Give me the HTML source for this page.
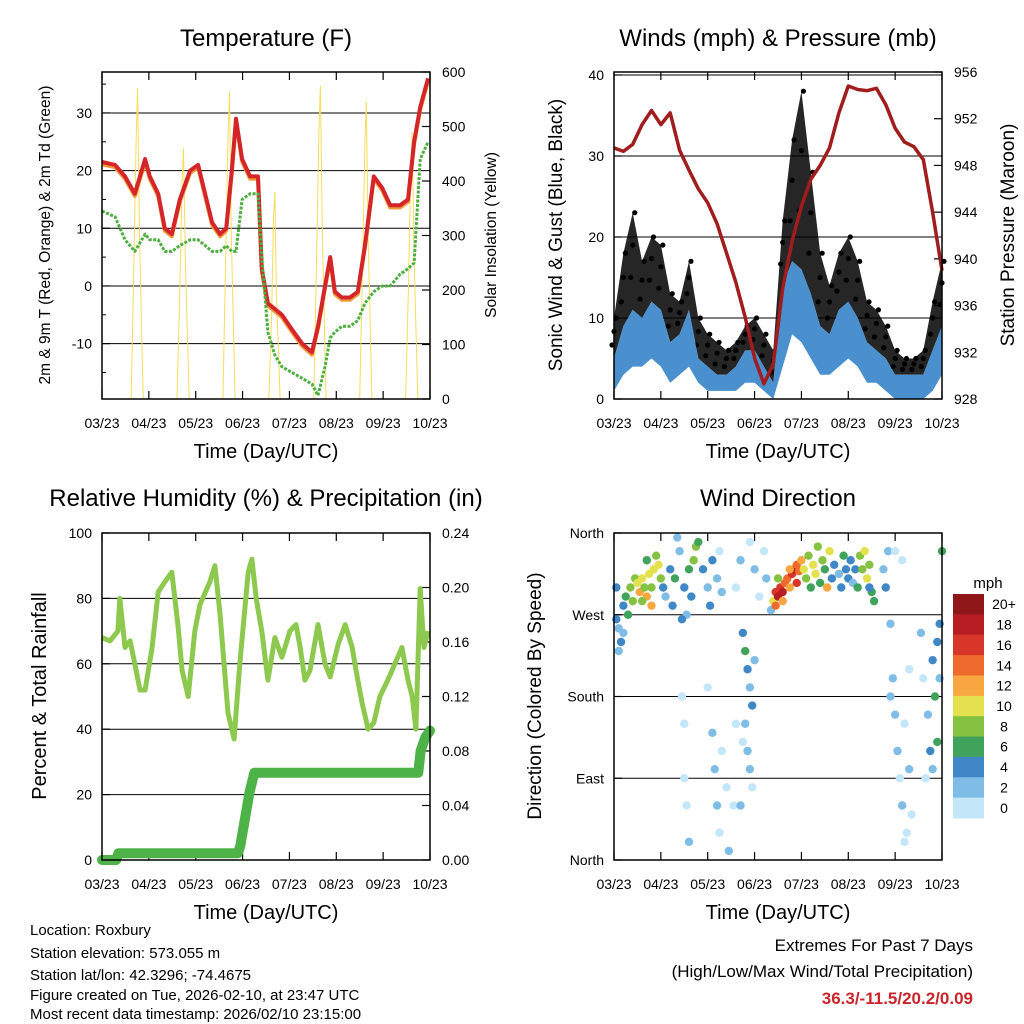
<!DOCTYPE html>
<html><head><meta charset="utf-8">
<style>
html,body{margin:0;padding:0;background:#fff;}
svg{display:block;font-family:"Liberation Sans",sans-serif;}
</style></head>
<body>
<svg id="c" width="1024" height="1024" viewBox="0 0 1024 1024"></svg>
<script>
// ---------- DATA ----------
const xTickLabels = ["03/23","04/23","05/23","06/23","07/23","08/23","09/23","10/23"];
// Temperature panel
const tempTime = [0,.28,.49,.70,.92,1.02,1.20,1.34,1.49,1.66,1.88,2.05,2.20,2.35,2.52,2.65,2.77,2.86,2.99,3.16,3.33,3.41,3.54,3.69,3.84,4.05,4.27,4.48,4.61,4.76,4.87,4.97,5.12,5.29,5.46,5.61,5.80,5.98,6.15,6.36,6.53,6.66,6.79,6.96];
const tempF = [21.5,21,19,16,22,19,16,10,9,15,20,21,16,11,9,10,20,29,22,19,19,3,-3,-4,-5,-7.5,-10,-11.5,-7,0,5,-1,-2,-2,-1,7,19,17,14,14,15,25,31,36];
const dewF = [13,12,8,6,9,8,8,6,6,7,8,8,7,6,6,7,6,6,15,16,16,5,-8,-12,-14,-15,-16,-17,-19,-14,-9,-8,-7,-7,-6,-3,-1,0,0,2,3,4,22,25];
const solarTime = [0,.62,.68,.73,.76,.80,.88,1.6,1.66,1.71,1.74,1.78,1.86,2.58,2.64,2.69,2.72,2.76,2.84,3.56,3.62,3.66,3.69,3.72,3.8,4.52,4.58,4.63,4.66,4.7,4.78,5.5,5.56,5.61,5.64,5.68,5.76,6.48,6.54,6.59,6.62,6.66,6.74,7];
const solarW = [0,0,250,480,570,300,0,0,200,400,460,250,0,0,260,480,565,300,0,0,150,330,380,200,0,0,260,490,575,320,0,0,240,470,545,300,0,0,200,420,490,260,0,0];
const tempTicks = [-10,0,10,20,30];
const solarTicks = [0,100,200,300,400,500,600];
// Wind panel
const windTime = [0,.2,.4,.6,.8,1,1.2,1.4,1.6,1.8,2,2.2,2.4,2.6,2.8,3,3.2,3.4,3.6,3.8,4,4.2,4.4,4.6,4.8,5,5.2,5.4,5.6,5.8,6,6.2,6.4,6.6,6.8,7];
const windHi = [5,9,11,10,12,11,7,8,11,5,4,3,3,4,6,6,4,2,14,17,16,13,9,8,11,12,10,7,6,5,3,3,3,3,6,9];
const windLo = [1,3,4,4,5,4,2,3,4,2,1,1,1,1,2,2,1,0,4,8,7,5,3,3,4,5,4,2,2,1,0,0,0,0,1,3];
const gustHi = [10,18,23,17,20,19,13,12,17,10,8,7,6,7,9,10,8,6,22,32,38,28,18,14,18,20,17,12,11,9,6,5,5,6,12,17];
const pressMb = [949.5,949.2,949.8,951.5,952.7,951.5,952.5,949.3,947.6,946,944.8,943,940.5,938,935,931.5,929.3,931,937.5,941.5,944.5,946.8,948,949.5,952.5,954.8,954.5,954.4,954.6,953.2,951.2,950,949.6,948.5,944,939];
const windTicks = [0,10,20,30,40];
const pressTicks = [928,932,936,940,944,948,952,956];
// Humidity panel
const rhTime = [0,.17,.34,.38,.49,.6,.7,.81,.92,1.07,1.2,1.34,1.49,1.62,1.71,1.84,1.98,2.09,2.3,2.41,2.52,2.69,2.82,2.94,3.12,3.2,3.29,3.41,3.54,3.69,3.84,4.01,4.14,4.23,4.33,4.44,4.61,4.76,4.87,5.04,5.19,5.34,5.42,5.55,5.68,5.8,5.93,6.1,6.25,6.4,6.53,6.62,6.7,6.79,6.87,6.96];
const rhPct = [68,67,70,80,65,67,60,52,52,65,82,85,88,72,58,50,70,78,85,90,75,45,37,60,88,92,80,70,55,68,62,70,72,65,55,58,72,60,56,66,72,65,58,48,40,42,50,55,60,65,55,50,40,83,65,70];
const precipTime = [0,.3,.35,2.9,2.95,3.05,3.15,3.25,6.75,6.8,6.9,7];
const precipIn = [0,0,.005,.005,.01,.03,.05,.064,.064,.08,.09,.095];
const rhTicks = [0,20,40,60,80,100];
const precipTicks = ["0.00","0.04","0.08","0.12","0.16","0.20","0.24"];
// Wind direction panel
const dirTime = [0.05,0.1,0.15,0.2,0.25,0.3,0.1,0.2,0.35,0.4,0.45,0.05,
0.5,0.55,0.6,0.65,0.7,0.75,0.8,0.85,0.9,0.95,1.0,0.6,0.8,0.7,
1.05,1.1,1.2,1.25,1.3,1.4,1.5,1.6,1.7,1.75,1.65,1.55,1.8,1.45,1.35,
1.9,2.0,2.1,2.2,2.05,2.25,2.3,
1.45,1.5,1.5,1.55,1.6,2.0,2.1,2.15,2.2,2.25,2.3,2.4,2.45,2.55,2.6,
2.75,2.8,2.85,2.9,2.95,2.8,2.85,2.9,2.95,2.7,3.0,2.75,
2.6,2.7,2.9,3.0,3.1,3.2,3.25,
3.35,3.4,3.45,3.5,3.55,3.6,3.65,3.7,3.75,3.8,3.85,3.9,3.95,4.0,3.6,3.75,3.5,3.45,3.9,
4.05,4.1,4.15,4.2,4.25,4.3,4.35,4.4,4.45,4.5,4.55,4.6,4.65,4.7,4.8,4.85,4.9,4.95,5.0,
5.05,5.1,5.15,5.2,5.25,5.3,5.35,5.4,5.45,5.5,5.55,5.45,
5.75,5.8,5.85,5.9,5.95,6.0,6.05,6.1,6.15,6.2,6.25,6.0,6.15,5.9,6.3,6.35,6.3,6.2,
6.55,6.6,6.7,6.75,6.8,6.85,6.9,6.95,6.9,6.8,6.95,7.0,6.65];
const dirDeg = [265,255,240,280,290,270,230,250,300,285,310,300,
305,295,310,300,290,315,300,320,335,325,310,285,280,330,
300,290,320,280,310,340,300,320,330,345,290,270,350,265,355,
320,300,330,310,280,340,295,
180,150,90,60,20,190,140,100,60,30,120,80,10,60,150,
250,230,210,190,170,150,120,100,80,60,220,130,
300,330,350,320,290,340,310,
275,285,295,290,300,295,305,310,300,315,320,325,318,330,285,320,310,280,305,
320,310,335,300,325,315,345,305,330,320,300,340,310,325,315,300,335,320,310,
330,305,320,300,335,320,340,310,325,295,285,300,
320,300,340,260,200,160,120,90,60,150,30,340,330,180,100,50,210,20,
250,200,160,120,220,180,240,200,130,100,260,340,90];
const dirSpeed = [4,3,4,5,7,6,2,3,8,9,9,4,
10,12,11,9,13,10,8,11,9,10,8,8,12,7,
4,3,5,4,6,3,4,7,9,8,5,3,6,4,2,
4,3,4,2,5,1,2,
1,1,0,1,2,1,2,3,2,1,0,1,2,0,1,
4,6,5,3,4,3,2,3,1,2,3,1,
1,2,1,2,1,1,2,
3,10,16,18,17,19,15,14,13,16,18,15,14,13,12,12,9,15,17,
10,8,9,7,11,10,8,6,9,7,12,11,5,4,3,4,7,4,5,
4,3,5,6,8,9,10,11,8,7,6,5,
3,4,2,3,2,3,2,1,2,1,1,1,0,3,2,1,1,0,
2,1,3,4,4,6,5,3,6,2,4,6,1];
const dirTicks = ["North","East","South","West","North"];
const speedLabels = ["20+","18","16","14","12","10","8","6","4","2","0"];
const speedColors = ["#8f1719","#b81d24","#d9362a","#ee6a2d","#f7a640","#e3e24e","#86c241","#3fa35c","#3f87c6","#7fbde6","#c3e6f8"];

// ---------- HELPERS ----------
const NS = "http://www.w3.org/2000/svg";
const svg = document.getElementById("c");
function add(tag, attrs, parent){
  const e = document.createElementNS(NS, tag);
  for (const k in attrs) e.setAttribute(k, attrs[k]);
  (parent || svg).appendChild(e);
  return e;
}
function lin(d0,d1,r0,r1){ return v => r0 + (v-d0)/(d1-d0)*(r1-r0); }
function txt(x,y,s,size,anchor,extra){
  const t = add("text", Object.assign({x:x,y:y,"font-size":size,"text-anchor":anchor||"start",fill:"#000"}, extra||{}));
  t.textContent = s;
  return t;
}
function path(xs, ys, fx, fy){
  return xs.map((v,i)=>(i?"L":"M")+fx(v).toFixed(1)+","+fy(ys[i]).toFixed(1)).join("");
}
function frame(x0,y0,x1,y1,name){
  const g = add("g",{});
  
  
  const fx = lin(0,7,x0,x1);
  xTickLabels.forEach((s,i)=>{
    const x = fx(i);
    add("line",{x1:x,y1:y1,x2:x,y2:y1-8,stroke:"#000","stroke-width":1.2},g);
    add("line",{x1:x,y1:y0,x2:x,y2:y0+8,stroke:"#000","stroke-width":1.2},g);
    const t = txt(x,y1+29,s,14,"middle");
    
    
  });
  const xt = txt((x0+x1)/2,y1+59,"Time (Day/UTC)",20,"middle");
  
  
  return fx;
}
function box(x0,y0,x1,y1){
  const r = add("rect",{x:x0,y:y0,width:x1-x0,height:y1-y0,fill:"none",stroke:"#000","stroke-width":1.5});
  
  
}
function gridline(x0,x1,y){
  const l = add("line",{x1:x0,y1:y,x2:x1,y2:y,stroke:"#000","stroke-width":1});
  
  
}
function leftTick(x0,y,label){
  add("line",{x1:x0,y1:y,x2:x0+8,y2:y,stroke:"#000","stroke-width":1.2});
  const t = txt(x0-10,y+5,label,14,"end");
  
  
}
function rightTick(x1,y,label){
  add("line",{x1:x1,y1:y,x2:x1-8,y2:y,stroke:"#000","stroke-width":1.2});
  const t = txt(x1+12,y+5,label,14,"start");
  
  
}
function vtitle(x,y,s,size,name){
  const t = txt(x,y,s,size,"middle",{transform:"rotate(-90 "+x+" "+y+")"});
  
  
}
function title(x,y,s,name){
  const t = txt(x,y,s,24,"middle");
  
  
}

// ---------- PANEL 1: TEMPERATURE ----------
(function(){
  const x0=102,x1=430,y0=72,y1=399;
  title(266,46,"Temperature (F)","temperature-title");
  const fx = frame(x0,y0,x1,y1,"temperature-x-axis");
  const fy = lin(-19.6,37.1,y1,y0);
  const fs = lin(0,600,y1,y0);
  tempTicks.forEach(v=>{ gridline(x0,x1,fy(v)); leftTick(x0,fy(v),String(v)); });
  for(let v=-15; v<=35; v+=10){ add("line",{x1:x0,y1:fy(v),x2:x0+4,y2:fy(v),stroke:"#000"}); }
  solarTicks.forEach(v=>rightTick(x1,fs(v),String(v)));
  const s = add("path",{d:path(solarTime,solarW,fx,fs),fill:"none",stroke:"#f7dc5a","stroke-width":1});
  
  
  const o = add("path",{d:path(tempTime,tempF.map(v=>v-0.4),fx,fy),fill:"none",stroke:"#f29a3a","stroke-width":4,"stroke-linejoin":"round"});
  
  
  const r = add("path",{d:path(tempTime,tempF,fx,fy),fill:"none",stroke:"#d4252a","stroke-width":4,"stroke-linejoin":"round"});
  
  
  const g = add("path",{d:path(tempTime,dewF,fx,fy),fill:"none",stroke:"#4caf3f","stroke-width":3,"stroke-dasharray":"3 1.5","stroke-linejoin":"round"});
  
  
  box(x0,y0,x1,y1);
  vtitle(50,235,"2m & 9m T (Red, Orange) & 2m Td (Green)",15.5,"y-axis-title");
  vtitle(496,235,"Solar Insolation (Yellow)",15.5,"y2-axis-title");
})();

// ---------- PANEL 2: WINDS & PRESSURE ----------
(function(){
  const x0=614,x1=942,y0=72,y1=399;
  title(778,46,"Winds (mph) & Pressure (mb)","winds-title");
  const fx = frame(x0,y0,x1,y1,"winds-x-axis");
  const fy = lin(0,40.37,y1,y0);
  const fp = lin(928,956,y1,y0);
  windTicks.forEach(v=>{ gridline(x0,x1,fy(v)); leftTick(x0,fy(v),String(v)); });
  pressTicks.forEach(v=>rightTick(x1,fp(v),String(v)));
  const gd = path(windTime,gustHi,fx,fy) + path(windTime.slice().reverse(),windHi.slice().reverse(),fx,fy).replace("M","L") + "Z";
  const gb = add("path",{d:gd,fill:"#000",opacity:0.85});
  
  
  windTime.forEach((t,i)=>{
    for(let k=0;k<3;k++){
      const v = windHi[i] + (gustHi[i]-windHi[i])*(k+1)/3;
      const c = add("circle",{cx:fx(t)+k*2-2,cy:fy(v),r:2.6,fill:"#000"});
      
      
    }
  });
  const wd = path(windTime,windHi,fx,fy) + path(windTime.slice().reverse(),windLo.slice().reverse(),fx,fy).replace("M","L") + "Z";
  const wb = add("path",{d:wd,fill:"#4a90cf"});
  
  
  const p = add("path",{d:path(windTime,pressMb,fx,fp),fill:"none",stroke:"#a11c1c","stroke-width":3.5,"stroke-linejoin":"round"});
  
  
  box(x0,y0,x1,y1);
  vtitle(562,235,"Sonic Wind & Gust (Blue, Black)",19,"y-axis-title");
  vtitle(1014,235,"Station Pressure (Maroon)",19,"y2-axis-title");
})();

// ---------- PANEL 3: RH & PRECIP ----------
(function(){
  const x0=102,x1=430,y0=533,y1=860;
  title(266,506,"Relative Humidity (%) & Precipitation (in)","humidity-title");
  const fx = frame(x0,y0,x1,y1,"humidity-x-axis");
  const fy = lin(0,100,y1,y0);
  const fp = lin(0,0.24,y1,y0);
  rhTicks.forEach(v=>{ if(v>0&&v<100) gridline(x0,x1,fy(v)); leftTick(x0,fy(v),String(v)); });
  precipTicks.forEach(v=>rightTick(x1,fp(parseFloat(v)),v));
  const r = add("path",{d:path(rhTime,rhPct,fx,fy),fill:"none",stroke:"#8dc94e","stroke-width":5,"stroke-linejoin":"round"});
  
  
  const p = add("path",{d:path(precipTime,precipIn,fx,fp),fill:"none",stroke:"#4db247","stroke-width":10,"stroke-linejoin":"round","stroke-linecap":"round"});
  
  
  box(x0,y0,x1,y1);
  vtitle(46,696,"Percent & Total Rainfall",20,"y-axis-title");
})();

// ---------- PANEL 4: WIND DIRECTION ----------
(function(){
  const x0=614,x1=942,y0=533,y1=860;
  title(778,506,"Wind Direction","wind-direction-title");
  const fx = frame(x0,y0,x1,y1,"direction-x-axis");
  const fy = lin(0,360,y1,y0);
  dirTicks.forEach((s,i)=>{ const v=i*90; if(i>0&&i<4) gridline(x0,x1,fy(v)); leftTick(x0,fy(v),s); });
  function col(s){ let b = Math.min(10, Math.floor(s/2)); return speedColors[10-b]; }
  dirTime.forEach((t,i)=>{
    const c = add("circle",{cx:fx(t),cy:fy(dirDeg[i]),r:4.2,fill:col(dirSpeed[i])});
    
    
  });
  box(x0,y0,x1,y1);
  vtitle(541,696,"Direction (Colored By Speed)",19,"y-axis-title");
  const cb = add("g",{});
  
  
  const t0 = txt(988,588,"mph",15,"middle",{});
  
  
  const bh = 224/11;
  speedLabels.forEach((s,i)=>{
    const y = 594 + i*bh;
    const r = add("rect",{x:953,y:y,width:31,height:bh+0.5,fill:speedColors[i]},cb);
    
    
    const l = txt(1004,y+bh/2+5,s,14,"middle");
    
    
  });
})();

// ---------- FOOTER ----------
const footLines = ["Location: Roxbury","Station elevation: 573.055 m","Station lat/lon: 42.3296; -74.4675","Figure created on Tue, 2026-02-10, at 23:47 UTC","Most recent data timestamp: 2026/02/10 23:15:00"];
const footY = [935,958,980,1000,1019];
footLines.forEach((s,i)=>{
  const t = txt(30,footY[i],s,15,"start");
  
  
});
const e1 = txt(973,951,"Extremes For Past 7 Days",17,"end");


const e2 = txt(973,977,"(High/Low/Max Wind/Total Precipitation)",17,"end");


const e3 = txt(973,1004,"36.3/-11.5/20.2/0.09",17,"end",{fill:"#c9252c","font-weight":"bold"});


</script>
</body></html>
